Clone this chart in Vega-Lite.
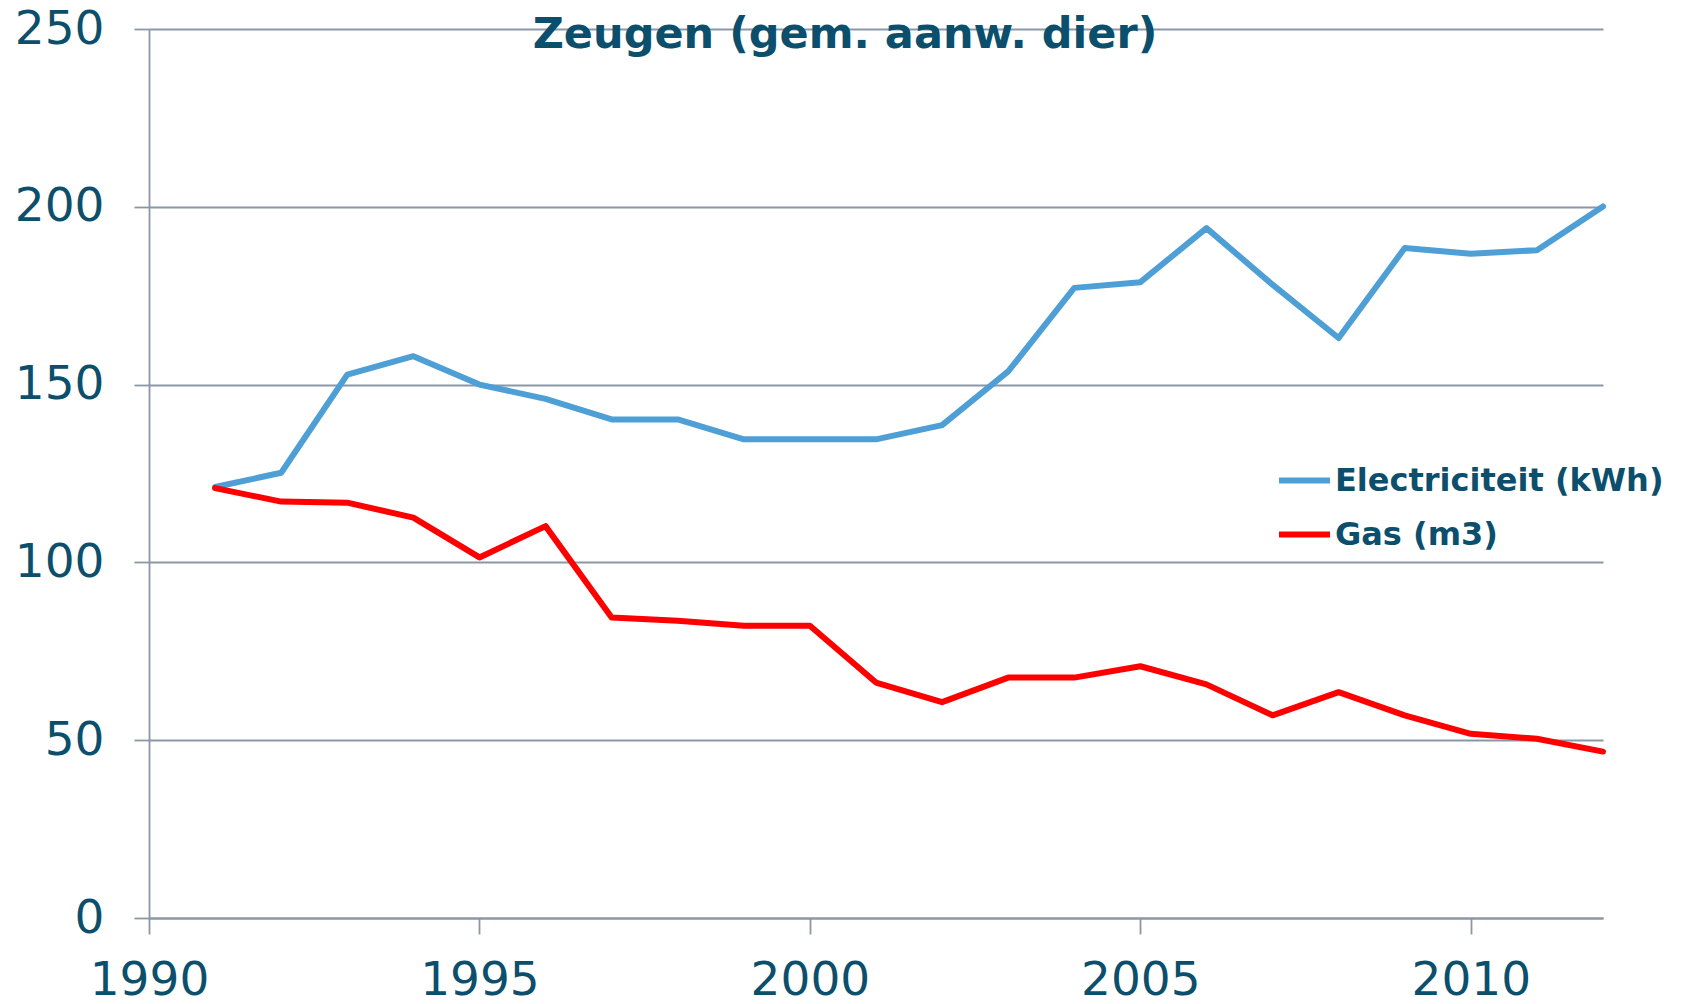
{
  "$schema": "https://vega.github.io/schema/vega-lite/v6.json",
  "autosize": {"type": "none"},
  "padding": {"left": 149, "top": 29, "right": 82, "bottom": 86},
  "width": 1454,
  "height": 889,
  "background": "white",
  "title": {
    "text": "Zeugen (gem. aanw. dier)",
    "font": "DejaVu Sans",
    "fontSize": 43,
    "fontWeight": "bold",
    "color": "#0B4F6C",
    "anchor": "middle",
    "frame": "group",
    "baseline": "middle",
    "offset": -73,
    "dx": -31
  },
  "data": {
    "values": [
      {"jaar": 1991, "serie": "Electriciteit (kWh)", "waarde": 121.2},
      {"jaar": 1992, "serie": "Electriciteit (kWh)", "waarde": 125.2},
      {"jaar": 1993, "serie": "Electriciteit (kWh)", "waarde": 152.8},
      {"jaar": 1994, "serie": "Electriciteit (kWh)", "waarde": 158.0},
      {"jaar": 1995, "serie": "Electriciteit (kWh)", "waarde": 150.0},
      {"jaar": 1996, "serie": "Electriciteit (kWh)", "waarde": 146.0},
      {"jaar": 1997, "serie": "Electriciteit (kWh)", "waarde": 140.2},
      {"jaar": 1998, "serie": "Electriciteit (kWh)", "waarde": 140.2},
      {"jaar": 1999, "serie": "Electriciteit (kWh)", "waarde": 134.6},
      {"jaar": 2000, "serie": "Electriciteit (kWh)", "waarde": 134.6},
      {"jaar": 2001, "serie": "Electriciteit (kWh)", "waarde": 134.6},
      {"jaar": 2002, "serie": "Electriciteit (kWh)", "waarde": 138.6},
      {"jaar": 2003, "serie": "Electriciteit (kWh)", "waarde": 153.7},
      {"jaar": 2004, "serie": "Electriciteit (kWh)", "waarde": 177.2},
      {"jaar": 2005, "serie": "Electriciteit (kWh)", "waarde": 178.8},
      {"jaar": 2006, "serie": "Electriciteit (kWh)", "waarde": 194.0},
      {"jaar": 2007, "serie": "Electriciteit (kWh)", "waarde": 178.1},
      {"jaar": 2008, "serie": "Electriciteit (kWh)", "waarde": 163.1},
      {"jaar": 2009, "serie": "Electriciteit (kWh)", "waarde": 188.4},
      {"jaar": 2010, "serie": "Electriciteit (kWh)", "waarde": 186.8},
      {"jaar": 2011, "serie": "Electriciteit (kWh)", "waarde": 187.8},
      {"jaar": 2012, "serie": "Electriciteit (kWh)", "waarde": 200.1},
      {"jaar": 1991, "serie": "Gas (m3)", "waarde": 120.9},
      {"jaar": 1992, "serie": "Gas (m3)", "waarde": 117.1},
      {"jaar": 1993, "serie": "Gas (m3)", "waarde": 116.8},
      {"jaar": 1994, "serie": "Gas (m3)", "waarde": 112.6},
      {"jaar": 1995, "serie": "Gas (m3)", "waarde": 101.4},
      {"jaar": 1996, "serie": "Gas (m3)", "waarde": 110.2},
      {"jaar": 1997, "serie": "Gas (m3)", "waarde": 84.5},
      {"jaar": 1998, "serie": "Gas (m3)", "waarde": 83.6},
      {"jaar": 1999, "serie": "Gas (m3)", "waarde": 82.2},
      {"jaar": 2000, "serie": "Gas (m3)", "waarde": 82.2},
      {"jaar": 2001, "serie": "Gas (m3)", "waarde": 66.2},
      {"jaar": 2002, "serie": "Gas (m3)", "waarde": 60.7},
      {"jaar": 2003, "serie": "Gas (m3)", "waarde": 67.6},
      {"jaar": 2004, "serie": "Gas (m3)", "waarde": 67.6},
      {"jaar": 2005, "serie": "Gas (m3)", "waarde": 70.8},
      {"jaar": 2006, "serie": "Gas (m3)", "waarde": 65.7},
      {"jaar": 2007, "serie": "Gas (m3)", "waarde": 57.0},
      {"jaar": 2008, "serie": "Gas (m3)", "waarde": 63.5},
      {"jaar": 2009, "serie": "Gas (m3)", "waarde": 57.0},
      {"jaar": 2010, "serie": "Gas (m3)", "waarde": 51.8},
      {"jaar": 2011, "serie": "Gas (m3)", "waarde": 50.4},
      {"jaar": 2012, "serie": "Gas (m3)", "waarde": 46.8}
    ]
  },
  "mark": {"type": "line", "strokeWidth": 6, "strokeJoin": "round", "strokeCap": "round"},
  "encoding": {
    "x": {
      "field": "jaar",
      "type": "quantitative",
      "scale": {"domain": [1990, 2012], "nice": false, "zero": false},
      "axis": {
        "title": null,
        "values": [1990, 1995, 2000, 2005, 2010],
        "format": "d",
        "grid": false,
        "tickSize": 16,
        "tickColor": "#8B97A5",
        "tickWidth": 1.8,
        "domainColor": "#8B97A5",
        "domainWidth": 1.8,
        "labelFont": "DejaVu Sans",
        "labelFontSize": 47,
        "labelColor": "#0B4F6C",
        "labelPadding": 23,
        "labelFlush": false
      }
    },
    "y": {
      "field": "waarde",
      "type": "quantitative",
      "scale": {"domain": [0, 250], "nice": false},
      "axis": {
        "title": null,
        "values": [0, 50, 100, 150, 200, 250],
        "grid": true,
        "gridColor": "#8B97A5",
        "gridWidth": 1.8,
        "tickSize": 15,
        "tickColor": "#8B97A5",
        "tickWidth": 1.8,
        "domainColor": "#8B97A5",
        "domainWidth": 1.8,
        "labelFont": "DejaVu Sans",
        "labelFontSize": 47,
        "labelColor": "#0B4F6C",
        "labelPadding": 30
      }
    },
    "color": {
      "field": "serie",
      "type": "nominal",
      "scale": {"domain": ["Electriciteit (kWh)", "Gas (m3)"], "range": ["#4E9FD6", "#FF0000"]},
      "legend": {
        "title": null,
        "orient": "none",
        "legendX": 1127,
        "legendY": 423,
        "symbolType": "stroke",
        "symbolSize": 2600,
        "symbolStrokeWidth": 6,
        "labelFont": "DejaVu Sans",
        "labelFontSize": 32,
        "labelFontWeight": "bold",
        "labelColor": "#0B4F6C",
        "labelOffset": 2,
        "labelLimit": 600,
        "rowPadding": 9
      }
    }
  },
  "config": {"view": {"stroke": null}}
}
